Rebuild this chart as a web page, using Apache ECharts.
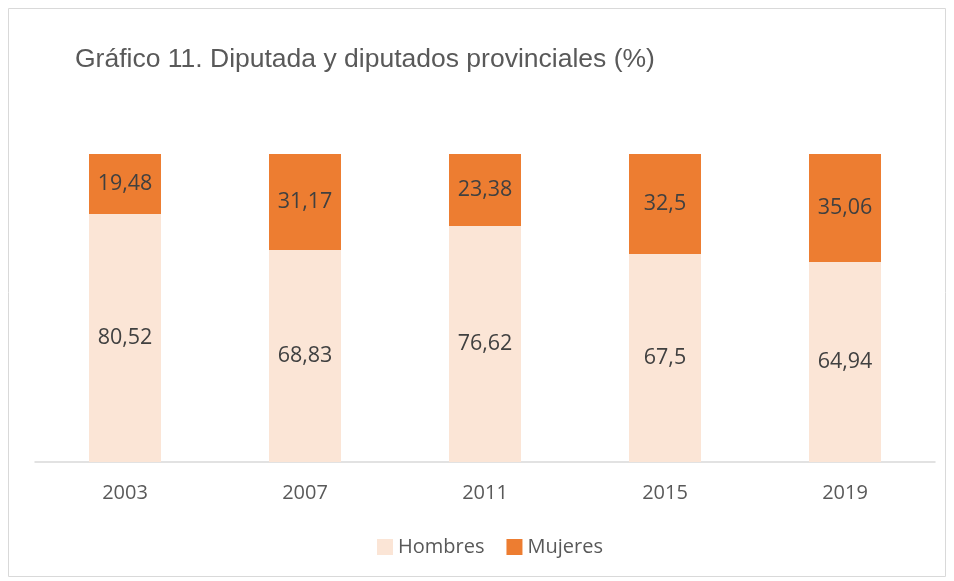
<!DOCTYPE html>
<html>
<head>
<meta charset="utf-8">
<script src="https://cdn.jsdelivr.net/npm/echarts@6/dist/echarts.min.js"></script>
<style>
  html, body { margin: 0; padding: 0; background: #fff; }
  #chart { width: 954px; height: 581px; }
</style>
</head>
<body>
<div id="chart"></div>
<script>
const years = ['2003', '2007', '2011', '2015', '2019'];
const hombres = [80.52, 68.83, 76.62, 67.5, 64.94];
const mujeres = [19.48, 31.17, 23.38, 32.5, 35.06];

const fmt = p => String(p.value).replace('.', ',');

const chart = echarts.init(document.getElementById('chart'), null, { renderer: 'canvas' });
chart.setOption({
  animation: false,
  title: {
    text: 'Gráfico 11. Diputada y diputados provinciales (%)',
    left: 70,
    top: 41,
    textStyle: { fontFamily: 'Liberation Sans', fontSize: 26.5, fontWeight: 'normal', color: '#595959' }
  },
  graphic: [{
    type: 'rect',
    shape: { x: 8.5, y: 8.5, width: 937, height: 568 },
    style: { fill: 'none', stroke: '#d9d9d9', lineWidth: 1 },
    silent: true
  }],
  grid: { left: 35, right: 19, top: 154, bottom: 119 },
  xAxis: {
    type: 'category',
    data: years,
    axisLine: { lineStyle: { color: '#d9d9d9', width: 1.5 } },
    axisTick: { show: false },
    axisLabel: { margin: 21, fontFamily: 'Open Sans', fontSize: 20, color: '#595959' }
  },
  yAxis: { type: 'value', min: 0, max: 100, show: false, splitLine: { show: false } },
  legend: {
    left: 372,
    bottom: 19,
    itemWidth: 16,
    itemHeight: 16,
    itemGap: 22,
    icon: 'rect',
    textStyle: { fontFamily: 'Open Sans', fontSize: 20, color: '#595959' },
    data: ['Hombres', 'Mujeres']
  },
  series: [
    {
      name: 'Hombres', type: 'bar', stack: 'total', data: hombres, barWidth: '40%',
      itemStyle: { color: '#FBE5D6' },
      label: { show: true, position: 'inside', formatter: fmt, fontFamily: 'Open Sans', fontSize: 21.5, color: '#404040' }
    },
    {
      name: 'Mujeres', type: 'bar', stack: 'total', data: mujeres, barWidth: '40%',
      itemStyle: { color: '#ED7D31' },
      label: { show: true, position: 'inside', formatter: fmt, fontFamily: 'Open Sans', fontSize: 21.5, color: '#404040' }
    }
  ]
});
</script>
</body>
</html>
